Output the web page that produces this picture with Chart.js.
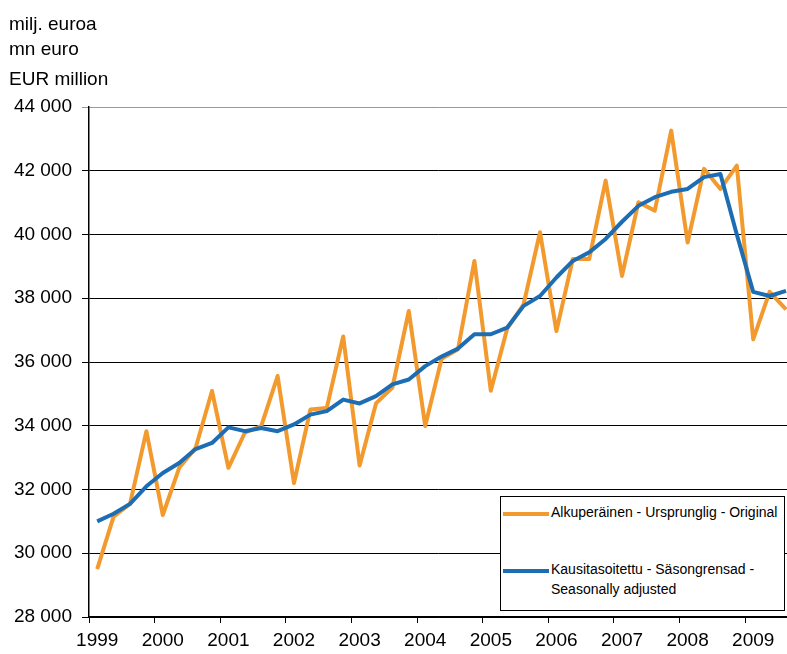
<!DOCTYPE html>
<html>
<head>
<meta charset="utf-8">
<script src="https://cdn.jsdelivr.net/npm/chart.js@4/dist/chart.umd.min.js"></script>
<style>
  html, body { margin: 0; padding: 0; background: #fff; }
  #wrap { position: relative; width: 787px; height: 654px; overflow: hidden; font-family: "Liberation Sans", Arial, sans-serif; color: #000; }
  .unit { position: absolute; left: 9px; font-size: 19px; line-height: 19px; white-space: nowrap; }
  #legend { position: absolute; left: 500px; top: 496px; width: 285px; height: 115px; border: 1.5px solid #000; background: #fff; box-sizing: border-box; font-size: 14px; line-height: 20px; }
  .item { position: absolute; left: 2px; }
  .swatch { position: absolute; left: 0; width: 46px; height: 4px; }
  .txt { position: absolute; left: 48px; white-space: nowrap; }
</style>
</head>
<body>
<div id="wrap">
  <canvas id="chart" width="787" height="654"></canvas>
  <div class="unit" style="top:14px">milj. euroa</div>
  <div class="unit" style="top:39px">mn euro</div>
  <div class="unit" style="top:69px">EUR million</div>
  <div id="legend">
    <div class="item" style="top:5px">
      <div class="swatch" style="top:10px;background:#F39A2E"></div>
      <div class="txt" style="top:0">Alkuperäinen - Ursprunglig - Original</div>
    </div>
    <div class="item" style="top:62px">
      <div class="swatch" style="top:10px;background:#1D6DB4"></div>
      <div class="txt" style="top:0">Kausitasoitettu - Säsongrensad -<br>Seasonally adjusted</div>
    </div>
  </div>
</div>
<script>
// Year labels (one per four quarters, 1999 Q1 .. 2009 Q3)
const years = ['1999', '2000', '2001', '2002', '2003', '2004', '2005', '2006', '2007', '2008', '2009'];

// Alkuperäinen - Ursprunglig - Original
const original = [
  29500, 31150, 31550, 33830,
  31200, 32680, 33300, 35090,
  32680, 33780, 33990, 35560,
  32200, 34510, 34560, 36800,
  32750, 34700, 35200, 37600,
  33990, 36100, 36400, 39170,
  35100, 37050, 37810, 40070,
  36970, 39230, 39230, 41690,
  38700, 41010, 40750, 43260,
  39750, 42060, 41430, 42160,
  36710, 38200, 37650
];

// Kausitasoitettu - Säsongrensad - Seasonally adjusted
const adjusted = [
  31000, 31240, 31550, 32100,
  32520, 32830, 33270, 33460,
  33950, 33830, 33930, 33830,
  34040, 34350, 34460, 34820,
  34700, 34930, 35300, 35450,
  35870, 36170, 36420, 36870,
  36870, 37080, 37760, 38070,
  38650, 39170, 39440, 39860,
  40400, 40900, 41170, 41340,
  41430, 41800, 41900, 40000,
  38200, 38070, 38230
];

const yTicks = [28000, 30000, 32000, 34000, 36000, 38000, 40000, 42000, 44000];

const fontFamily = '"Liberation Sans", Arial, sans-serif';

// "44000" -> "44 000"
function fmt(v) {
  return String(v).replace(/\B(?=(\d{3})+(?!\d))/g, ' ');
}

const ctx = document.getElementById('chart').getContext('2d');

const myChart = new Chart(ctx, {
  type: 'line',
  data: {
    datasets: [
      {
        label: 'Kausitasoitettu - Säsongrensad - Seasonally adjusted',
        data: adjusted.map((v, i) => ({ x: i, y: v })),
        borderColor: '#1D6DB4',
        borderWidth: 4,
        pointRadius: 0,
        tension: 0,
        borderJoinStyle: 'round',
        order: 0 // drawn on top
      },
      {
        label: 'Alkuperäinen - Ursprunglig - Original',
        data: original.map((v, i) => ({ x: i, y: v })),
        borderColor: '#F39A2E',
        borderWidth: 4,
        pointRadius: 0,
        tension: 0,
        borderJoinStyle: 'round',
        order: 1
      }
    ]
  },
  options: {
    responsive: false,
    animation: false,
    layout: { padding: { top: 107, right: 0, bottom: 0, left: 0 } },
    plugins: {
      legend: { display: false },
      tooltip: { enabled: false }
    },
    scales: {
      x: {
        type: 'linear',
        min: -0.5,
        max: 42.06,
        // tick marks between years, labels on Q1
        afterBuildTicks: scale => {
          scale.ticks = years.map((_, i) => ({ value: -0.5 + 4 * i }));
        },
        afterFit: scale => { scale.height = 37; },
        ticks: {
          callback: (v, i) => years[i],
          labelOffset: 8.2,
          autoSkip: false,
          maxRotation: 0,
          padding: 6,
          color: '#000',
          font: { family: fontFamily, size: 19 }
        },
        grid: { drawOnChartArea: false, tickLength: 6, color: '#000', lineWidth: 1 },
        border: { color: '#000', width: 1.5 }
      },
      y: {
        min: 28000,
        max: 44000,
        afterBuildTicks: scale => {
          scale.ticks = yTicks.map(v => ({ value: v }));
        },
        afterFit: scale => { scale.width = 89; },
        ticks: {
          callback: v => fmt(v),
          padding: 10,
          color: '#000',
          font: { family: fontFamily, size: 19 }
        },
        grid: {
          color: c => (c.tick && c.tick.value === 44000 ? '#999' : '#000'),
          lineWidth: 1,
          tickLength: 7
        },
        border: { color: '#000', width: 1.5 }
      }
    }
  }
});
</script>
</body>
</html>
